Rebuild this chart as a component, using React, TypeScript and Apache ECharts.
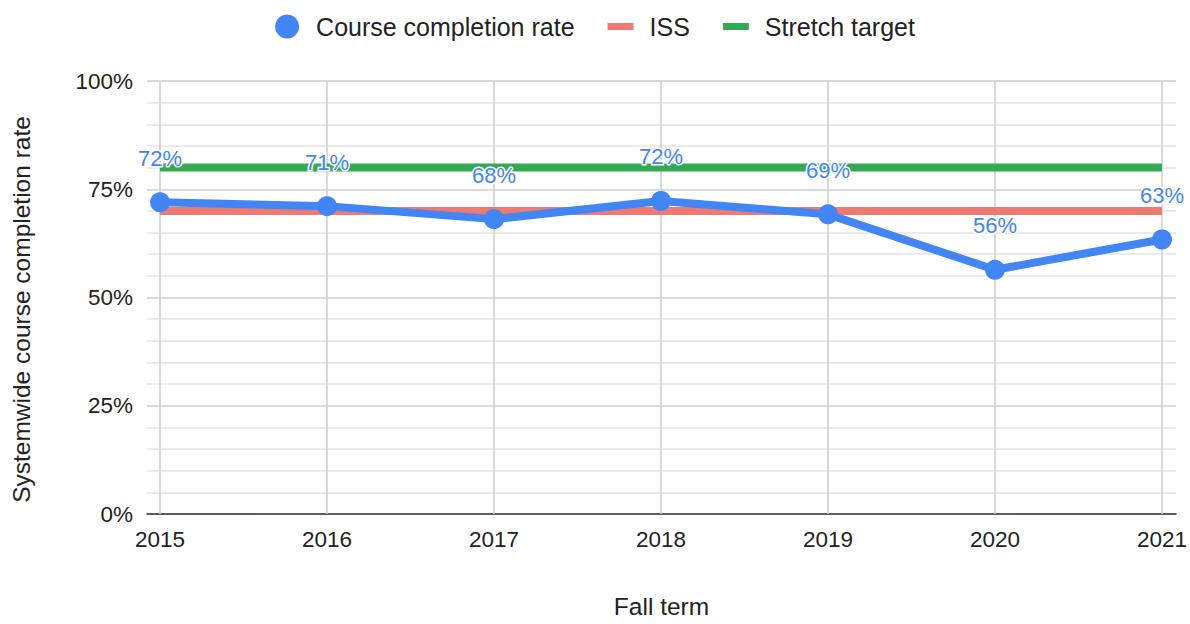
import React, { useEffect, useRef } from "react";
import * as echarts from "echarts";

const years = [2015, 2016, 2017, 2018, 2019, 2020, 2021];
const completionRate = [72.0, 71.1, 68.1, 72.3, 69.2, 56.4, 63.4];
const issValues = [70, 70, 70, 70, 70, 70, 70];
const stretchValues = [80, 80, 80, 80, 80, 80, 80];
const yTicks = [0, 25, 50, 75, 100];

const FONT = "'Liberation Sans', Arial, sans-serif";

export default function App() {
  const ref = useRef<HTMLDivElement>(null);
  useEffect(() => {
    if (!ref.current) return;
    const chart = echarts.init(ref.current, undefined, { renderer: "svg", width: 1190, height: 624 });
    const pairs = (vals: number[]) => years.map((y, i) => [y, vals[i]]);
    chart.setOption({
      animation: false,
      textStyle: { fontFamily: FONT },
      legend: {
        top: 9,
        left: "center",
        itemWidth: 26,
        itemHeight: 24,
        itemGap: 33,
        textStyle: { fontSize: 25, color: "#222", fontFamily: FONT, padding: [0, 0, 0, 11] },
        data: [
          { name: "Course completion rate", icon: "circle" },
          { name: "ISS", icon: "path://M0,0H26V7H0Z" },
          { name: "Stretch target", icon: "path://M0,0H26V7H0Z" },
        ],
      },
      grid: { left: 147, width: 1029, top: 81, height: 440, containLabel: false },
      xAxis: {
        type: "value",
        min: 2014.922,
        max: 2021.084,
        name: "Fall term",
        nameLocation: "middle",
        nameGap: 80,
        nameTextStyle: { fontSize: 24.5, color: "#222", fontFamily: FONT },
        axisLine: { show: true, lineStyle: { color: "#333", width: 1.5 } },
        axisTick: { show: false },
        splitLine: { show: false },
        axisLabel: {
          customValues: years,
          formatter: (v: number) => String(v),
          fontSize: 22.5,
          color: "#222",
          margin: 14,
          fontFamily: FONT,
        },
      },
      yAxis: {
        type: "value",
        min: yTicks[0],
        max: yTicks[yTicks.length - 1],
        interval: 25,
        name: "Systemwide course completion rate",
        nameLocation: "middle",
        nameGap: 113,
        nameTextStyle: { fontSize: 24.5, color: "#222", fontFamily: FONT, padding: [0, 24, 0, 0] },
        axisLine: { show: false },
        axisTick: { show: false },
        axisLabel: { formatter: "{value}%", fontSize: 22.5, color: "#222", margin: 14, fontFamily: FONT },
        splitLine: { show: true, lineStyle: { color: "#cccccc", width: 1.5 } },
        minorTick: { show: false, splitNumber: 5 },
        minorSplitLine: { show: true, lineStyle: { color: "#e5e5e5", width: 1.5 } },
      },
      series: [
        {
          name: "grid-verticals",
          type: "line",
          data: [],
          silent: true,
          markLine: {
            silent: true,
            symbol: "none",
            z: 1,
            label: { show: false },
            lineStyle: { color: "#cccccc", width: 1.5, type: "solid" },
            data: years.map((y) => ({ xAxis: y })),
          },
        },
        {
          name: "Stretch target",
          type: "line",
          data: pairs(stretchValues),
          showSymbol: false,
          symbol: "none",
          z: 3,
          lineStyle: { color: "#34a853", width: 8 },
          itemStyle: { color: "#34a853" },
        },
        {
          name: "ISS",
          type: "line",
          data: pairs(issValues),
          showSymbol: false,
          symbol: "none",
          z: 3,
          lineStyle: { color: "#ee7b73", width: 8 },
          itemStyle: { color: "#ee7b73" },
        },
        {
          name: "Course completion rate",
          type: "line",
          data: pairs(completionRate),
          symbol: "circle",
          symbolSize: 20,
          z: 4,
          lineStyle: { color: "#4285f4", width: 8 },
          itemStyle: { color: "#4285f4" },
          label: {
            show: true,
            position: "top",
            distance: 23,
            fontSize: 22,
            color: "#4285f4",
            fontFamily: FONT,
            textBorderColor: "#ffffff",
            textBorderWidth: 3,
            formatter: (p: any) => Math.round(p.value[1]) + "%",
          },
        },
      ],
    });
    return () => chart.dispose();
  }, []);
  return <div ref={ref} style={{ width: 1190, height: 624, position: "absolute", left: 0, top: 0 }} />;
}
